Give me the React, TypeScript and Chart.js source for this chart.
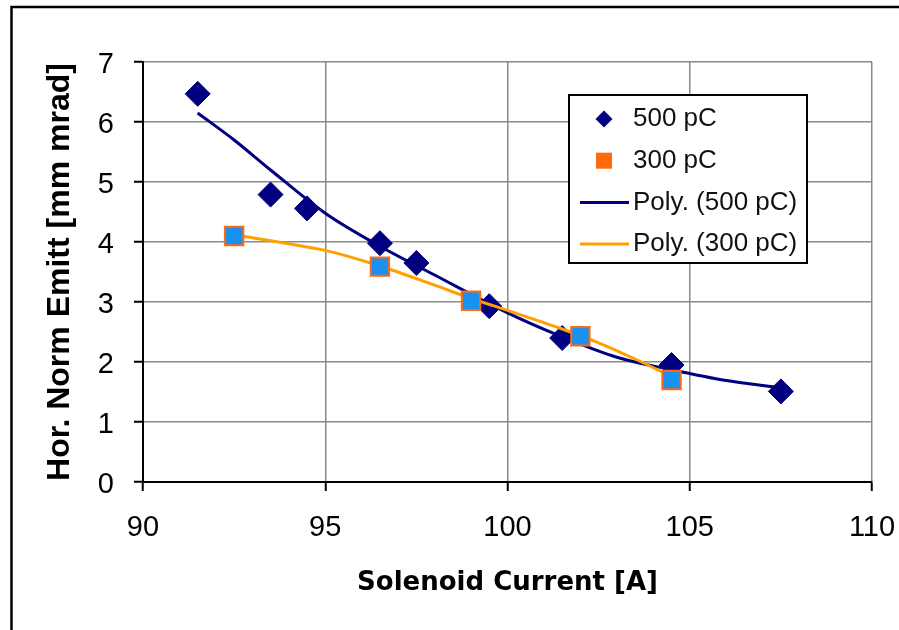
import React, { useEffect, useRef } from 'react';
import { Chart, registerables } from 'chart.js';

Chart.register(...registerables);

// ---- Data ----
const current500 = [91.5, 93.5, 94.5, 96.5, 97.5, 99.5, 101.5, 104.5, 107.5];
const emitt500 = [6.47, 4.79, 4.56, 3.98, 3.65, 2.93, 2.4, 1.95, 1.51];

const current300 = [92.5, 96.5, 99, 102, 104.5];
const emitt300 = [4.1, 3.59, 3.02, 2.43, 1.7];

// trend lines
const polyCurrent500 = [91.5, 92.5, 93.5, 95, 96.5, 98, 100, 101.5, 103, 104.5, 106, 107.5];
const polyEmitt500 = [6.15, 5.7, 5.2, 4.48, 3.93, 3.45, 2.82, 2.42, 2.08, 1.87, 1.69, 1.57];

const polyCurrent300 = [92.5, 94, 95, 96.5, 98, 99, 100, 101.5, 102.5, 103.5, 104.5];
const polyEmitt300 = [4.12, 3.97, 3.86, 3.6, 3.28, 3.06, 2.86, 2.55, 2.32, 2.05, 1.76];

const seriesLabels = ['500 pC', '300 pC', 'Poly. (500 pC)', 'Poly. (300 pC)'];

const X_MIN = 90;
const X_MAX = 110;
const X_STEP = 5;
const Y_MIN = 0;
const Y_MAX = 7;
const Y_STEP = 1;

const xTitle = 'Solenoid Current [A]';
const yTitle = 'Hor. Norm Emitt [mm mrad]';

const NAVY = '#000080';
const ORANGE_LINE = '#ff9f00';
const SQUARE_FILL = '#1a90f0';
const SQUARE_EDGE = '#ff6a10';

const SANS = '"Liberation Sans", Arial, sans-serif';

const toPoints = (xs: number[], ys: number[]) => xs.map((x, i) => ({ x, y: ys[i] }));

export default function App() {
  const canvasRef = useRef<HTMLCanvasElement>(null);

  useEffect(() => {
    const canvas = canvasRef.current;
    if (!canvas) return;

    const framePlugin = {
      id: 'frame',
      beforeDraw(chart: any) {
        const ctx = chart.ctx;
        ctx.save();
        ctx.fillStyle = '#ffffff';
        ctx.fillRect(0, 0, chart.width, chart.height);
        ctx.strokeStyle = '#000000';
        ctx.lineWidth = 2.5;
        ctx.beginPath();
        ctx.moveTo(11.5, chart.height + 10);
        ctx.lineTo(11.5, 7);
        ctx.lineTo(chart.width + 10, 7);
        ctx.stroke();
        ctx.restore();
      },
    };

    const legendPlugin = {
      id: 'boxLegend',
      afterDatasetsDraw(chart: any) {
        const ctx = chart.ctx;
        const area = chart.chartArea;
        const bx = area.left + 426;
        const by = area.top + 33;
        const bw = 238;
        const bh = 168;
        ctx.save();
        ctx.fillStyle = '#ffffff';
        ctx.fillRect(bx, by, bw, bh);
        ctx.strokeStyle = '#000000';
        ctx.lineWidth = 2;
        ctx.strokeRect(bx, by, bw, bh);
        ctx.font = '26px ' + SANS;
        ctx.textBaseline = 'middle';
        ctx.textAlign = 'left';
        chart.data.datasets.forEach((ds: any, i: number) => {
          const cy = by + 24 + i * 41.7;
          const mx = bx + 35;
          if (ds.showLine) {
            ctx.strokeStyle = ds.borderColor;
            ctx.lineWidth = 3;
            ctx.beginPath();
            ctx.moveTo(bx + 11, cy);
            ctx.lineTo(bx + 60, cy);
            ctx.stroke();
          } else if (ds.pointStyle === 'rectRot') {
            const r = 8.5;
            ctx.fillStyle = ds.pointBackgroundColor;
            ctx.beginPath();
            ctx.moveTo(mx - r, cy);
            ctx.lineTo(mx, cy - r);
            ctx.lineTo(mx + r, cy);
            ctx.lineTo(mx, cy + r);
            ctx.closePath();
            ctx.fill();
          } else {
            ctx.fillStyle = ds.pointBorderColor;
            ctx.fillRect(mx - 8, cy - 8, 16, 16);
          }
          ctx.fillStyle = '#111111';
          ctx.fillText(ds.label, bx + 64, cy);
        });
        ctx.restore();
      },
    };

    const chart = new Chart(canvas, {
      type: 'scatter',
      data: {
        datasets: [
          {
            label: seriesLabels[0],
            data: toPoints(current500, emitt500),
            pointStyle: 'rectRot',
            pointRadius: 12.5,
            pointBackgroundColor: NAVY,
            pointBorderColor: NAVY,
            pointBorderWidth: 1,
            showLine: false,
            order: 4,
          },
          {
            label: seriesLabels[1],
            data: toPoints(current300, emitt300),
            pointStyle: 'rect',
            pointRadius: 13,
            pointBackgroundColor: SQUARE_FILL,
            pointBorderColor: SQUARE_EDGE,
            pointBorderWidth: 2,
            showLine: false,
            order: 1,
          },
          {
            label: seriesLabels[2],
            data: toPoints(polyCurrent500, polyEmitt500),
            showLine: true,
            borderColor: NAVY,
            backgroundColor: NAVY,
            borderWidth: 3,
            pointRadius: 0,
            cubicInterpolationMode: 'monotone',
            order: 3,
          },
          {
            label: seriesLabels[3],
            data: toPoints(polyCurrent300, polyEmitt300),
            showLine: true,
            borderColor: ORANGE_LINE,
            backgroundColor: ORANGE_LINE,
            borderWidth: 3,
            pointRadius: 0,
            cubicInterpolationMode: 'monotone',
            order: 2,
          },
        ],
      } as any,
      options: {
        animation: false,
        responsive: false,
        maintainAspectRatio: false,
        layout: { padding: { left: 0, top: 62, right: 27, bottom: 0 } },
        plugins: {
          legend: { display: false },
          tooltip: { enabled: false },
        },
        scales: {
          x: {
            type: 'linear',
            min: X_MIN,
            max: X_MAX,
            afterFit: (s: any) => {
              s.height = 148;
              s.paddingLeft = 0;
              s.paddingRight = 0;
            },
            ticks: {
              stepSize: X_STEP,
              color: '#000',
              padding: 20,
              font: { family: SANS, size: 29 },
            },
            grid: {
              color: '#8a8a8a',
              lineWidth: 1.5,
              tickColor: '#000',
              tickWidth: 2,
              tickLength: 9,
            },
            border: { color: '#000', width: 2 },
            title: {
              display: true,
              text: xTitle,
              color: '#000',
              font: { family: '"DejaVu Sans", sans-serif', size: 26, weight: 'bold' },
              padding: { top: 0, bottom: 31 },
            },
          },
          y: {
            type: 'linear',
            min: Y_MIN,
            max: Y_MAX,
            afterFit: (s: any) => {
              s.width = 143;
              s.paddingTop = 0;
              s.paddingBottom = 0;
            },
            ticks: {
              stepSize: Y_STEP,
              color: '#000',
              padding: 20,
              labelOffset: 3,
              font: { family: SANS, size: 29 },
            },
            grid: {
              color: '#8a8a8a',
              lineWidth: 1.5,
              tickColor: '#000',
              tickWidth: 2,
              tickLength: 9,
            },
            border: { color: '#000', width: 2 },
            title: {
              display: true,
              text: yTitle,
              color: '#000',
              font: { family: SANS, size: 32, weight: 'bold' },
              padding: { top: 41, bottom: 0 },
            },
          },
        },
      } as any,
      plugins: [framePlugin, legendPlugin],
    });

    return () => {
      chart.destroy();
    };
  }, []);

  return (
    <div
      style={{
        position: 'fixed',
        left: 0,
        top: 0,
        width: 899,
        height: 630,
        background: '#ffffff',
      }}
    >
      <canvas ref={canvasRef} width={899} height={630} style={{ display: 'block' }} />
    </div>
  );
}
